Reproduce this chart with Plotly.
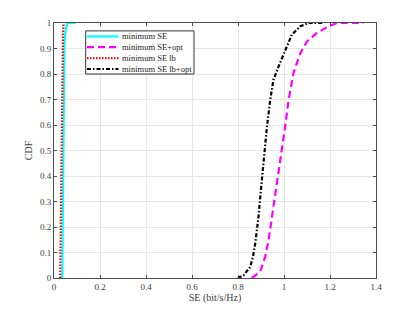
import plotly.graph_objects as go

# Data (SE values, CDF values)
min_se_x = [0.036, 0.037, 0.038, 0.040, 0.041, 0.043, 0.045, 0.048, 0.052, 0.058, 0.075, 0.094]
min_se_y = [0.0, 0.1, 0.3, 0.5, 0.7, 0.8, 0.9, 0.95, 0.98, 1.0, 1.0, 1.0]

min_se_opt_x = [0.860, 0.896, 0.918, 0.933, 0.954, 0.976, 0.991, 1.005, 1.020, 1.041, 1.071, 1.100, 1.143, 1.194, 1.230, 1.346]
min_se_opt_y = [0.0, 0.024, 0.083, 0.148, 0.279, 0.410, 0.502, 0.594, 0.698, 0.803, 0.882, 0.928, 0.961, 0.987, 1.0, 1.0]

min_se_lb_x = [0.027, 0.028, 0.030, 0.032, 0.034, 0.036, 0.039, 0.042]
min_se_lb_y = [0.0, 0.1, 0.3, 0.5, 0.7, 0.85, 0.95, 1.0]

min_se_lb_opt_x = [0.799, 0.824, 0.853, 0.865, 0.875, 0.889, 0.901, 0.914, 0.926, 0.940, 0.954, 0.976, 1.005, 1.034, 1.071, 1.107, 1.172]
min_se_lb_opt_y = [0.0, 0.010, 0.043, 0.083, 0.135, 0.240, 0.358, 0.489, 0.594, 0.698, 0.777, 0.829, 0.895, 0.954, 0.987, 1.0, 1.0]

series_names = ["minimum SE", "minimum SE+opt", "minimum SE lb", "minimum SE lb+opt"]
series_colors = ["#00FFFF", "#FF00FF", "#FF0000", "#000000"]
series_dashes = ["solid", "7px,4px", "1.5px,1.5px", "4px,2px,1.5px,2px"]

x_ticks = [0, 0.2, 0.4, 0.6, 0.8, 1.0, 1.2, 1.4]
x_ticktext = ["0", "0.2", "0.4", "0.6", "0.8", "1", "1.2", "1.4"]
y_ticks = [0, 0.1, 0.2, 0.3, 0.4, 0.5, 0.6, 0.7, 0.8, 0.9, 1.0]
y_ticktext = ["0", "0.1", "0.2", "0.3", "0.4", "0.5", "0.6", "0.7", "0.8", "0.9", "1"]

data_x = [min_se_x, min_se_opt_x, min_se_lb_x, min_se_lb_opt_x]
data_y = [min_se_y, min_se_opt_y, min_se_lb_y, min_se_lb_opt_y]

fig = go.Figure()
for xs, ys, nm, col, ds in zip(data_x, data_y, series_names, series_colors, series_dashes):
    fig.add_trace(go.Scatter(x=xs, y=ys, mode="lines", name=nm, showlegend=False,
                             line=dict(color=col, width=2.2, dash=ds)))

axis_common = dict(
    showline=True, linecolor="#4d4d4d", linewidth=1, mirror="allticks",
    ticks="inside", ticklen=3, tickcolor="#4d4d4d",
    showgrid=True, gridcolor="#e6e6e6", gridwidth=1, zeroline=False,
    automargin=False,
    tickfont=dict(family="Liberation Serif", size=9, color="#404040"),
)

# Custom legend box (paper coordinates of the plot area; page px -> paper)
PX0, PX1, PY0, PY1 = 54.0, 376.0, 23.0, 278.0


def px_to_x(px):
    return (px - PX0) / (PX1 - PX0)


def py_to_y(py):
    return (PY1 - py) / (PY1 - PY0)


shapes = [dict(type="rect", xref="paper", yref="paper",
               x0=px_to_x(85.7), x1=px_to_x(194.0), y0=py_to_y(74.0), y1=py_to_y(30.9),
               line=dict(color="#333333", width=1), fillcolor="white", layer="above")]
annotations = []
row_y_px = [36.4, 47.2, 58.1, 69.0]
for i, (nm, col, ds) in enumerate(zip(series_names, series_colors, series_dashes)):
    yp = py_to_y(row_y_px[i])
    shapes.append(dict(type="line", xref="paper", yref="paper",
                       x0=px_to_x(87.0), x1=px_to_x(118.5), y0=yp, y1=yp,
                       line=dict(color=col, width=2.2, dash=ds), layer="above"))
    annotations.append(dict(xref="paper", yref="paper", x=px_to_x(120.0), y=yp,
                            text=nm, showarrow=False, xanchor="left", yanchor="middle",
                            font=dict(family="Liberation Serif", size=8.5, color="#222222")))

# page has an 8px body margin, so figure coords = page coords - 8
fig.update_layout(
    width=407, height=304,
    margin=dict(l=46, r=39, t=15, b=34),
    paper_bgcolor="white", plot_bgcolor="white",
    font=dict(family="Liberation Serif", color="#404040"),
    xaxis=dict(range=[0, 1.4], tickvals=x_ticks, ticktext=x_ticktext,
               title=dict(text="SE (bit/s/Hz)", font=dict(size=10), standoff=3), **axis_common),
    yaxis=dict(range=[0, 1], tickvals=y_ticks, ticktext=y_ticktext,
               title=dict(text="CDF", font=dict(size=10), standoff=5), **axis_common),
    shapes=shapes,
    annotations=annotations,
    showlegend=False,
)

fig.write_html("out.html")
